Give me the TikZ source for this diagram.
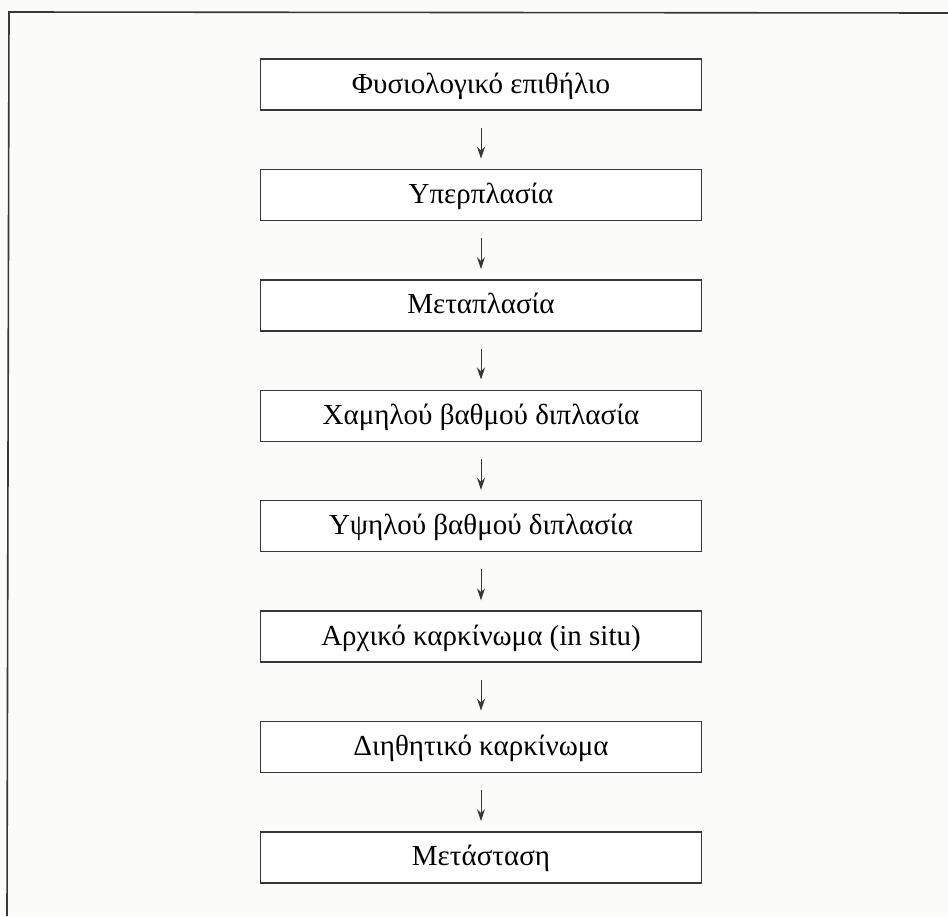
\documentclass[tikz,border=0pt]{standalone}
\usepackage{fontspec}
\setmainfont{Liberation Serif}
\usetikzlibrary{positioning,arrows.meta}
\definecolor{paper}{RGB}{251,251,250}
\definecolor{ink}{RGB}{55,55,55}
\begin{document}
\begin{tikzpicture}
		[x=1pt,y=-1pt,
		stage/.style={draw=ink,line width=1.4pt,fill=white,minimum width=441pt,minimum height=51pt,
			inner sep=0pt,text height=25pt,text depth=8pt,font=\fontsize{29}{34}\selectfont},
		flow/.style={-{Stealth[length=12pt,width=8pt]},line width=1pt,ink,shorten <=17pt,shorten >=10pt},
		node distance=58pt]
		% paper and the frame round it
		\fill[paper] (0,0) rectangle (948,916);
		\useasboundingbox (0,0) rectangle (948,916);
		\draw[ink,line width=1.6pt] (7,916) -- (9,12) -- (948,13);

		% draw the stages
		\node [stage] (normal) at (481,84.5) {Φυσιολογικό επιθήλιο};
		\node [stage,below=of normal] (hyper) {Υπερπλασία};
		\node [stage,below=of hyper] (meta) {Μεταπλασία};
		\node [stage,below=of meta] (lowdys) {Χαμηλού βαθμού διπλασία};
		\node [stage,below=of lowdys] (highdys) {Υψηλού βαθμού διπλασία};
		\node [stage,below=of highdys] (insitu) {Αρχικό καρκίνωμα (in situ)};
		\node [stage,below=of insitu] (invasive) {Διηθητικό καρκίνωμα};
		\node [stage,below=of invasive] (metast) {Μετάσταση};

		% draw the arrows
		\foreach \from/\to in {normal/hyper,hyper/meta,meta/lowdys,lowdys/highdys,highdys/insitu,insitu/invasive,invasive/metast}
			\draw [flow] (\from) -- (\to);
	\end{tikzpicture}
\end{document}
